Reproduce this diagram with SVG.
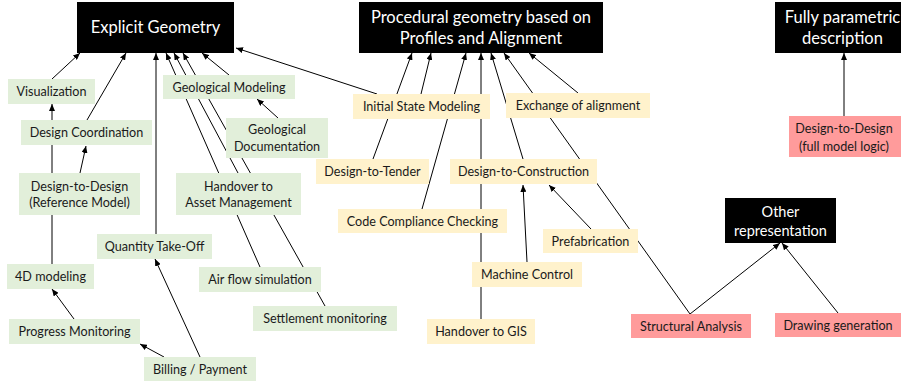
<svg xmlns="http://www.w3.org/2000/svg" width="901" height="383" viewBox="0 0 901 383">
<style>
.t{font-family:Lato,"Liberation Sans",sans-serif;font-size:12.6px;fill:#1a1a1a;text-anchor:middle}
.h{font-family:Lato,"Liberation Sans",sans-serif;font-size:16.5px;fill:#fff;text-anchor:middle}
.hs{font-size:14.5px}
.blk{fill:#000}
.g{fill:#e2efda}
.y{fill:#fff2cc}
.r{fill:#ff9b9b}
.c line{stroke:#000;stroke-width:1;marker-end:url(#a)}
</style>
<defs>
<marker id="a" markerUnits="userSpaceOnUse" markerWidth="8" markerHeight="6" refX="7" refY="3" orient="auto">
<path d="M0,0 L7,3 L0,6 z" fill="#000"/>
</marker>
</defs>
<rect width="901" height="383" fill="#fff"/>
<g class="c" id="connectors">
<line x1="52" y1="79" x2="80" y2="53"/>
<line x1="87" y1="120" x2="126" y2="53"/>
<line x1="52" y1="264" x2="52" y2="104"/>
<line x1="80" y1="173" x2="86" y2="146"/>
<line x1="74" y1="319" x2="52" y2="289"/>
<line x1="164" y1="357" x2="140" y2="344"/>
<line x1="200" y1="357" x2="155" y2="259"/>
<line x1="156" y1="234" x2="156" y2="53"/>
<line x1="260" y1="267" x2="166" y2="53"/>
<line x1="238" y1="173" x2="174" y2="53"/>
<line x1="325" y1="306" x2="183" y2="53"/>
<line x1="229" y1="75" x2="202" y2="53"/>
<line x1="278" y1="118" x2="257" y2="99"/>
<line x1="377" y1="94" x2="236" y2="48"/>
<line x1="373" y1="159" x2="412" y2="53"/>
<line x1="421" y1="94" x2="431" y2="53"/>
<line x1="422" y1="209" x2="466" y2="53"/>
<line x1="481" y1="319" x2="481" y2="53"/>
<line x1="523" y1="159" x2="491" y2="53"/>
<line x1="690" y1="314" x2="504" y2="53"/>
<line x1="578" y1="93" x2="529" y2="53"/>
<line x1="527" y1="262" x2="523" y2="185"/>
<line x1="591" y1="229" x2="549" y2="185"/>
<line x1="690" y1="314" x2="780" y2="243"/>
<line x1="838" y1="313" x2="782" y2="243"/>
<line x1="844" y1="116" x2="844" y2="53"/>
</g>
<g id="explicit"><rect class="blk" x="77" y="2" width="157" height="51"/><text class="h" x="155.5" y="33">Explicit Geometry</text></g>
<g id="procedural"><rect class="blk" x="359" y="2" width="244" height="51"/><text class="h" x="481" y="23">Procedural geometry based on</text><text class="h" x="481" y="44">Profiles and Alignment</text></g>
<g id="parametric"><rect class="blk" x="775" y="2" width="135" height="51"/><text class="h" x="842.5" y="23">Fully parametric</text><text class="h" x="842.5" y="44">description</text></g>
<g id="other"><rect class="blk" x="725" y="198" width="111" height="45"/><text class="h hs" x="780.5" y="217">Other</text><text class="h hs" x="780.5" y="236">representation</text></g>

<g id="visualization"><rect class="g" x="8" y="79" width="87" height="25"/><text class="t" x="51.5" y="96">Visualization</text></g>
<g id="design-coordination"><rect class="g" x="21" y="120" width="131" height="25"/><text class="t" x="86.5" y="137">Design Coordination</text></g>
<g id="d2d-ref"><rect class="g" x="19" y="173" width="121" height="42"/><text class="t" x="79.5" y="191">Design-to-Design</text><text class="t" x="79.5" y="207">(Reference Model)</text></g>
<g id="geo-modeling"><rect class="g" x="163" y="75" width="132" height="24"/><text class="t" x="229" y="92">Geological Modeling</text></g>
<g id="geo-doc"><rect class="g" x="226" y="118" width="102" height="40"/><text class="t" x="277" y="134">Geological</text><text class="t" x="277" y="151">Documentation</text></g>
<g id="handover-asset"><rect class="g" x="176" y="173" width="125" height="42"/><text class="t" x="238.5" y="191">Handover to</text><text class="t" x="238.5" y="207">Asset Management</text></g>
<g id="qto"><rect class="g" x="97" y="234" width="115" height="25"/><text class="t" x="154.5" y="251">Quantity Take-Off</text></g>
<g id="4d"><rect class="g" x="7" y="264" width="87" height="25"/><text class="t" x="50.5" y="281">4D modeling</text></g>
<g id="airflow"><rect class="g" x="199" y="267" width="122" height="25"/><text class="t" x="260" y="284">Air flow simulation</text></g>
<g id="progress"><rect class="g" x="9" y="319" width="131" height="25"/><text class="t" x="74.5" y="336">Progress Monitoring</text></g>
<g id="settlement"><rect class="g" x="253" y="306" width="144" height="25"/><text class="t" x="325" y="323">Settlement monitoring</text></g>
<g id="billing"><rect class="g" x="144" y="357" width="112" height="24"/><text class="t" x="200" y="374">Billing / Payment</text></g>

<g id="initial-state"><rect class="y" x="353" y="94" width="137" height="25"/><text class="t" x="421.5" y="111">Initial State Modeling</text></g>
<g id="exchange"><rect class="y" x="506" y="93" width="144" height="25"/><text class="t" x="578" y="110">Exchange of alignment</text></g>
<g id="d2t"><rect class="y" x="316" y="159" width="113" height="25"/><text class="t" x="372.5" y="176">Design-to-Tender</text></g>
<g id="d2c"><rect class="y" x="450" y="159" width="147" height="25"/><text class="t" x="523.5" y="176">Design-to-Construction</text></g>
<g id="ccc"><rect class="y" x="338" y="209" width="169" height="24"/><text class="t" x="422.5" y="226">Code Compliance Checking</text></g>
<g id="prefab"><rect class="y" x="543" y="229" width="95" height="24"/><text class="t" x="590.5" y="246">Prefabrication</text></g>
<g id="machine"><rect class="y" x="472" y="262" width="110" height="25"/><text class="t" x="527" y="279">Machine Control</text></g>
<g id="gis"><rect class="y" x="427" y="319" width="108" height="25"/><text class="t" x="481" y="336">Handover to GIS</text></g>

<g id="d2d-full"><rect class="r" x="789" y="116" width="112" height="41"/><text class="t" x="844" y="133">Design-to-Design</text><text class="t" x="844" y="151">(full model logic)</text></g>
<g id="structural"><rect class="r" x="631" y="314" width="120" height="24"/><text class="t" x="691" y="331">Structural Analysis</text></g>
<g id="drawing"><rect class="r" x="775" y="313" width="127" height="24"/><text class="t" x="838" y="330">Drawing generation</text></g>
</svg>
